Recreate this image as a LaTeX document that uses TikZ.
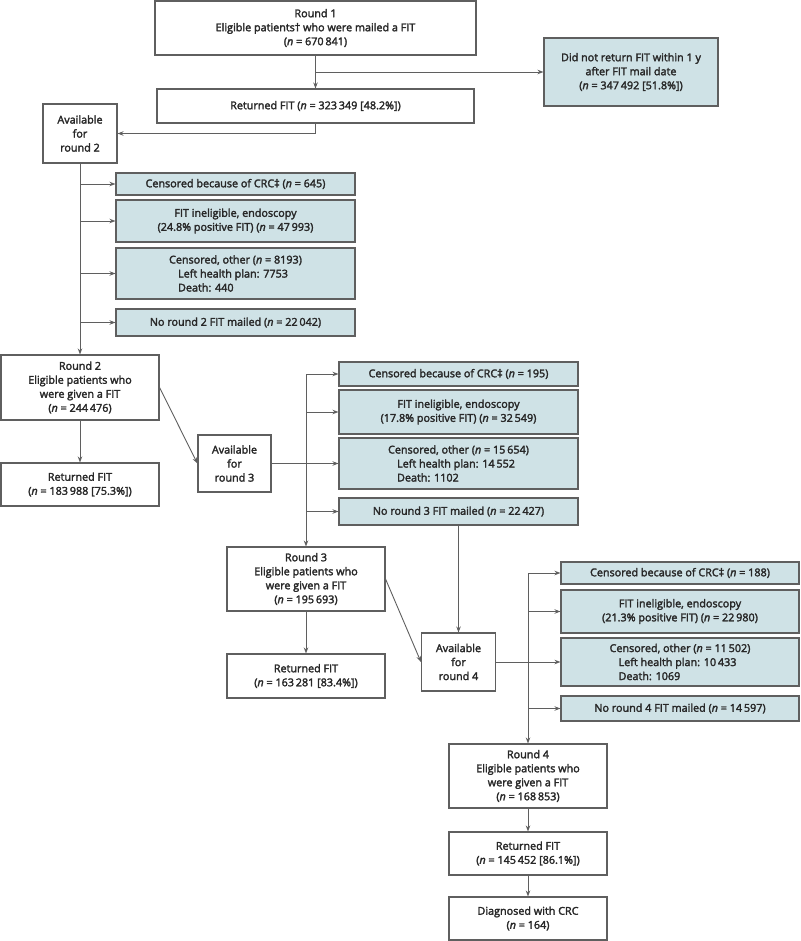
\documentclass[tikz,border=0pt]{standalone}
\usepackage{fontspec}
\setmainfont{Open Sans}[FakeBold=2.5]
\usetikzlibrary{arrows.meta}
\definecolor{boxline}{RGB}{95,95,95}
\definecolor{sidefill}{RGB}{207,226,230}
\definecolor{txt}{RGB}{40,40,40}
\newcommand{\nval}{\textit{n}}
\tikzset{
  box/.style={draw=boxline, line width=1.1pt, fill=white, text=txt, align=center,
    inner sep=0pt, font=\fontsize{10.8}{14}\selectfont},
  sidebox/.style={box, fill=sidefill},
  arr/.style={draw=boxline, line width=0.9pt, -{Stealth[length=6pt,width=4.5pt]}},
  ln/.style={draw=boxline, line width=0.9pt}
}

\begin{document}
\begin{tikzpicture}[x=1pt,y=-1pt]
\useasboundingbox (0,0) rectangle (800,941);

% round 1
\node[box, minimum width=321, minimum height=54] (r1) at (315.5,28) {Round 1\\Eligible patients† who were mailed a FIT\\(\nval{} = 670\,841)};
\node[sidebox, minimum width=174, minimum height=68] (nr) at (631,72) {Did not return FIT within 1 y\\after FIT mail date\\(\nval{} = 347\,492 [51.8\%])};
\node[box, minimum width=317, minimum height=34] (ret1) at (315.5,106) {Returned FIT (\nval{} = 323\,349 [48.2\%])};
\node[box, minimum width=74, minimum height=59] (av2) at (80,133.5) {Available\\for\\round 2};

% round 2
\node[sidebox, minimum width=239, minimum height=22] (c2a) at (235.5,184) {Censored because of CRC‡ (\nval{} = 645)};
\node[sidebox, minimum width=239, minimum height=42] (c2b) at (235.5,221) {FIT ineligible, endoscopy\\(24.8\% positive FIT) (\nval{} = 47\,993)};
\node[sidebox, minimum width=239, minimum height=51, align=left] (c2c) at (235.5,273.5) {Censored, other (\nval{} = 8193)\\\hspace*{9pt}Left health plan: 7753\\\hspace*{9pt}Death: 440};
\node[sidebox, minimum width=239, minimum height=27] (c2d) at (235.5,322.5) {No round 2 FIT mailed (\nval{} = 22\,042)};
\node[box, minimum width=158, minimum height=65] (r2) at (80,387.5) {Round 2\\Eligible patients who\\were given a FIT\\(\nval{} = 244\,476)};
\node[box, minimum width=158, minimum height=43] (ret2) at (80,484.5) {Returned FIT\\(\nval{} = 183\,988 [75.3\%])};
\node[box, minimum width=73, minimum height=57] (av3) at (234.5,463.5) {Available\\for\\round 3};

% round 3
\node[sidebox, minimum width=239, minimum height=24] (c3a) at (458.5,374) {Censored because of CRC‡ (\nval{} = 195)};
\node[sidebox, minimum width=239, minimum height=44] (c3b) at (458.5,412) {FIT ineligible, endoscopy\\(17.8\% positive FIT) (\nval{} = 32\,549)};
\node[sidebox, minimum width=239, minimum height=51, align=left] (c3c) at (458.5,463.5) {Censored, other (\nval{} = 15\,654)\\\hspace*{9pt}Left health plan: 14\,552\\\hspace*{9pt}Death: 1102};
\node[sidebox, minimum width=239, minimum height=27] (c3d) at (458.5,511.5) {No round 3 FIT mailed (\nval{} = 22\,427)};
\node[box, minimum width=158, minimum height=64] (r3) at (306,579) {Round 3\\Eligible patients who\\were given a FIT\\(\nval{} = 195\,693)};
\node[box, minimum width=158, minimum height=44] (ret3) at (306,676) {Returned FIT\\(\nval{} = 163\,281 [83.4\%])};
\node[box, minimum width=74, minimum height=58] (av4) at (458.5,662) {Available\\for\\round 4};

% round 4
\node[sidebox, minimum width=238, minimum height=22] (c4a) at (680,573) {Censored because of CRC‡ (\nval{} = 188)};
\node[sidebox, minimum width=238, minimum height=43] (c4b) at (680,611.5) {FIT ineligible, endoscopy\\(21.3\% positive FIT) (\nval{} = 22\,980)};
\node[sidebox, minimum width=238, minimum height=48, align=left] (c4c) at (680,662) {Censored, other (\nval{} = 11\,502)\\\hspace*{9pt}Left health plan: 10\,433\\\hspace*{9pt}Death: 1069};
\node[sidebox, minimum width=238, minimum height=25] (c4d) at (680,708.5) {No round 4 FIT mailed (\nval{} = 14\,597)};
\node[box, minimum width=158, minimum height=64] (r4) at (528,776) {Round 4\\Eligible patients who\\were given a FIT\\(\nval{} = 168\,853)};
\node[box, minimum width=158, minimum height=43] (ret4) at (528,853.5) {Returned FIT\\(\nval{} = 145\,452 [86.1\%])};
\node[box, minimum width=158, minimum height=43] (diag) at (528,918.5) {Diagnosed with CRC\\(\nval{} = 164)};

% connectors
\draw[arr] (r1) -- (ret1);
\draw[arr] (r1.south |- nr.west) -- (nr.west);
\draw[arr] (ret1.south) |- (av2.east);
\draw[arr] (av2) -- (r2);
\foreach \b in {c2a,c2b,c2c,c2d}
  \draw[arr] (av2.south |- \b.west) -- (\b.west);
\draw[arr] (r2) -- (ret2);
\draw[arr] (r2.east) -- (av3.west);

\draw[arr] (r3.north |- c3a.west) -- (r3.north);
\foreach \b in {c3a,c3b,c3d}
  \draw[arr] (r3.north |- \b.west) -- (\b.west);
\draw[arr] (av3.east) -- (c3c.west);
\draw[arr] (r3) -- (ret3);
\draw[arr] (r3.east) -- (av4.west);
\draw[arr] (c3d) -- (av4);

\draw[arr] (r4.north |- c4a.west) -- (r4.north);
\foreach \b in {c4a,c4b,c4d}
  \draw[arr] (r4.north |- \b.west) -- (\b.west);
\draw[arr] (av4.east) -- (c4c.west);
\draw[arr] (r4) -- (ret4);
\draw[arr] (ret4) -- (diag);
\end{tikzpicture}
\end{document}
